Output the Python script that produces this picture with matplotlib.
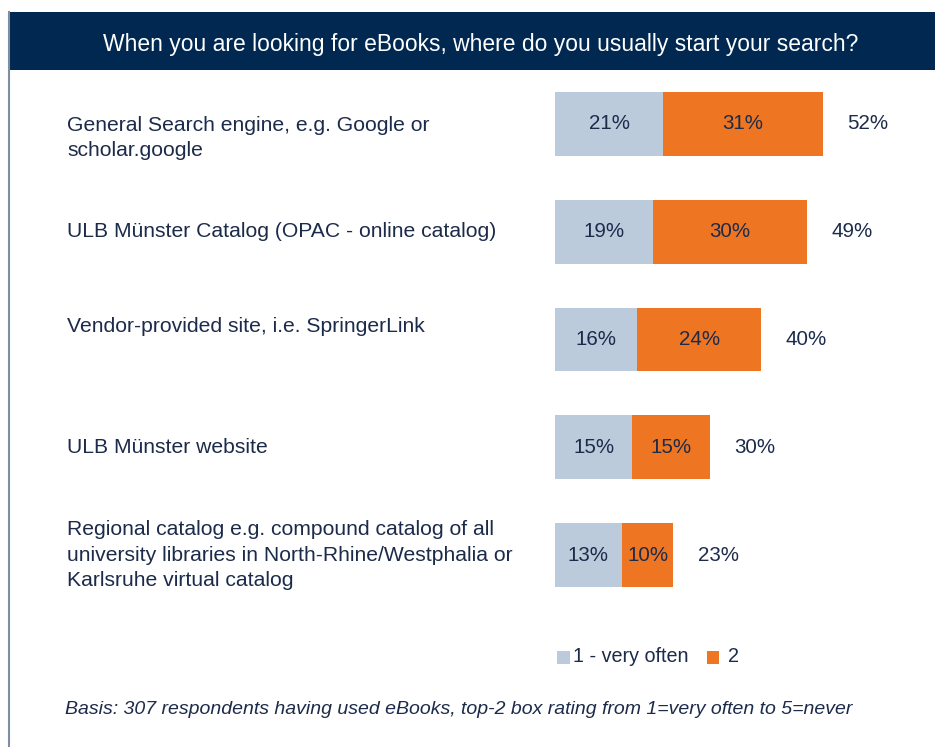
import matplotlib
matplotlib.use("Agg")
import matplotlib.pyplot as plt
from matplotlib.patches import Rectangle
import matplotlib.transforms as mtransforms

# data
categories = [
    "General Search engine, e.g. Google or\nscholar.google",
    "ULB Münster Catalog (OPAC - online catalog)",
    "Vendor-provided site, i.e. SpringerLink",
    "ULB Münster website",
    "Regional catalog e.g. compound catalog of all\nuniversity libraries in North-Rhine/Westphalia or\nKarlsruhe virtual catalog",
]
very_often = [21, 19, 16, 15, 13]
rating_2 = [31, 30, 24, 15, 10]
totals = [52, 49, 40, 30, 23]
series_names = ["1 - very often", "2"]

title = "When you are looking for eBooks, where do you usually start your search?"
footnote = "Basis: 307 respondents having used eBooks, top-2 box rating from 1=very often to 5=never"

# style
W, H = 935, 747
LIGHT = "#bccbdc"
ORANGE = "#ee7623"
NAVY = "#002850"
TEXT = "#1c2b4a"
FONT = ["Liberation Sans", "DejaVu Sans"]
label_dy = [14, 0, -13, 0, 0]  # pixel nudges (down positive) for left labels

fig = plt.figure(figsize=(W / 100, H / 100), dpi=100)
fig.patch.set_facecolor("white")

def fx(px):
    return px / W

def fy(py):
    return 1 - py / H

# header band and left frame line
fig.add_artist(Rectangle((fx(8), fy(70)), fx(935 - 8), 58 / H,
                         transform=fig.transFigure, facecolor=NAVY, edgecolor="none"))
fig.add_artist(plt.Line2D([fx(9), fx(9)], [fy(12), 0], transform=fig.transFigure,
                          color="#7f8ea3", linewidth=1.5))
fig.text(fx(481), fy(44), title, color="white", fontsize=16.5, family=FONT,
         ha="center", va="center")

# bar axes: 0% at x=555px, ~5.15 px per percent
ax = fig.add_axes([fx(555), fy(609), fx(380), 539 / H])
ax.set_xlim(0, 380 / 5.15)
ax.set_ylim(4.5, -0.5)
ax.axis("off")

ypos = list(range(len(categories)))
ax.barh(ypos, very_often, height=0.59, color=LIGHT, edgecolor="none")
ax.barh(ypos, rating_2, left=very_often, height=0.59, color=ORANGE, edgecolor="none")

for i in ypos:
    ax.text(very_often[i] / 2, i, f"{very_often[i]}%", ha="center", va="center",
            fontsize=14.8, color=TEXT, family=FONT)
    ax.text(very_often[i] + rating_2[i] / 2, i, f"{rating_2[i]}%", ha="center",
            va="center", fontsize=14.8, color=TEXT, family=FONT)
    ax.text(totals[i] + 8.7, i, f"{totals[i]}%", ha="center", va="center",
            fontsize=14.8, color=TEXT, family=FONT)

# category labels on the left
trans = mtransforms.blended_transform_factory(fig.transFigure, ax.transData)
for i, lab in enumerate(categories):
    off = mtransforms.offset_copy(trans, fig=fig, x=0, y=-label_dy[i], units="dots")
    ax.text(fx(67), i, lab, transform=off, ha="left", va="center", fontsize=15.2,
            color=TEXT, family=FONT, linespacing=1.45, clip_on=False)

# legend
fig.add_artist(Rectangle((fx(557), fy(664)), fx(13), 13 / H, transform=fig.transFigure,
                         facecolor=LIGHT, edgecolor="none"))
fig.text(fx(573), fy(657), series_names[0], fontsize=14.2, color=TEXT, family=FONT,
         va="center")
fig.add_artist(Rectangle((fx(707), fy(664)), fx(12), 13 / H, transform=fig.transFigure,
                         facecolor=ORANGE, edgecolor="none"))
fig.text(fx(728), fy(657), series_names[1], fontsize=14.2, color=TEXT, family=FONT,
         va="center")

fig.text(fx(65), fy(710), footnote, fontsize=14, style="italic", color=TEXT,
         family=FONT, va="center")

fig.savefig("out.png", dpi=100, facecolor="white")
